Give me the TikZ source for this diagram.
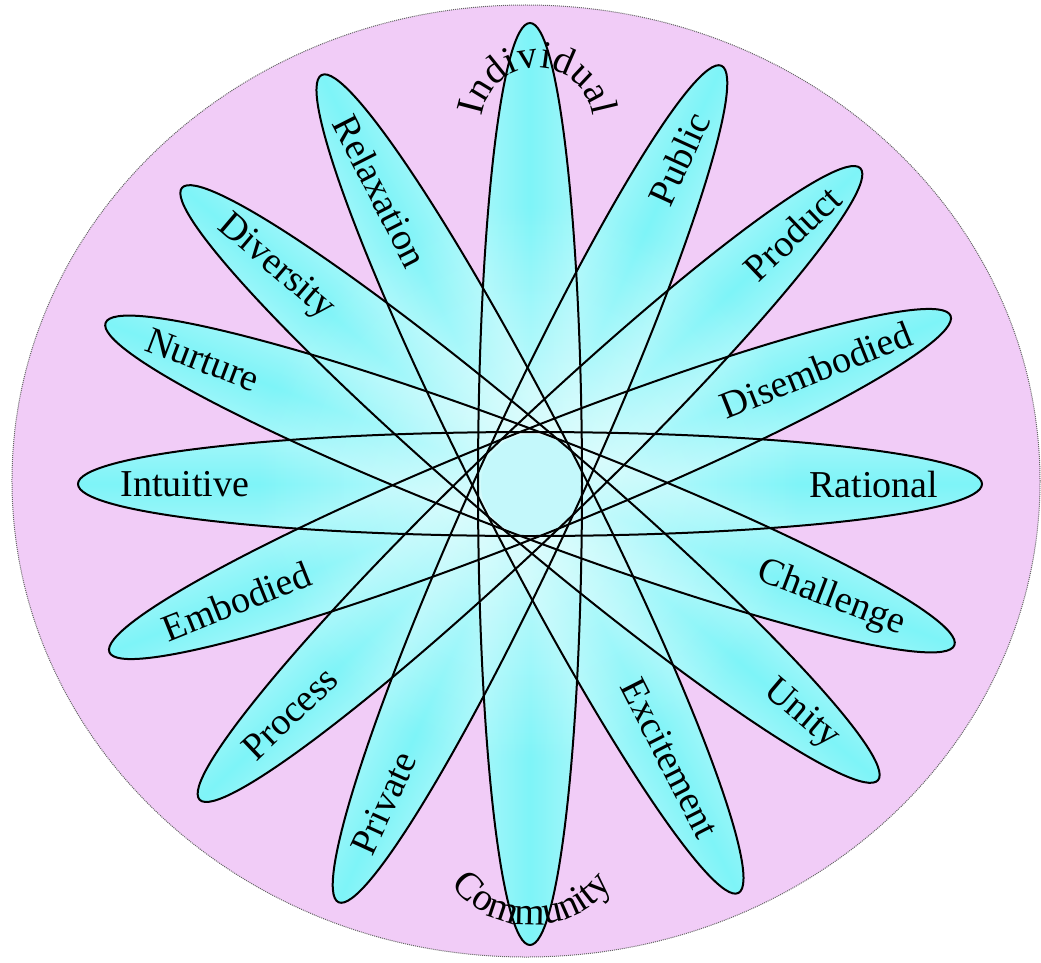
\documentclass[tikz,border=0pt]{standalone}
\usepackage{fontspec}
\setmainfont{Liberation Serif}
\usetikzlibrary{decorations.text,fadings}

\definecolor{discpink}{RGB}{241,204,247}
\definecolor{petalcyan}{RGB}{126,244,248}
\definecolor{petalpale}{RGB}{220,252,253}
\definecolor{hubcyan}{RGB}{196,248,251}
\pgfdeclarehorizontalshading{petalshade}{100bp}{color(0bp)=(petalcyan); color(25bp)=(petalcyan); color(35bp)=(petalcyan); color(50bp)=(petalpale); color(65bp)=(petalcyan); color(75bp)=(petalcyan); color(100bp)=(petalcyan)}
\tikzfading[name=petaledge, top color=transparent!68, bottom color=transparent!68, middle color=transparent!100]
\newcommand{\arcfont}{\fontsize{39}{40}\selectfont}

\begin{document}
\begin{tikzpicture}[x=1pt, y=1pt,
  petal/.style={line width=2pt, black},
  word/.style={font=\fontsize{38}{40}\selectfont, inner sep=0pt},
  rim/.style={gray!80!black, densely dotted, line width=1pt},
]
  \useasboundingbox (-530,-478) rectangle (511,484);
  \fill[discpink] (-4,3) ellipse [x radius=514, y radius=476];
  \draw[rim] (-4,3) ellipse [x radius=514, y radius=476];

  % petals: fill first, outlines on top
  \foreach \ang/\len in {0/452, 21.8/453, 43.7/457, 65.4/460, 90/461, 117/459, 139.6/457, 159.2/454}{
    \begin{scope}[transform canvas={rotate=\ang}]
      \shade[shading=petalshade] (0,0) ellipse [x radius=\len, y radius=52];
      \fill[white, path fading=petaledge] (0,0) ellipse [x radius=\len, y radius=52];
    \end{scope}
  }
  \fill[hubcyan] (2,-1) circle [radius=51];
  \foreach \ang/\len in {0/452, 21.8/453, 43.7/457, 65.4/460, 90/461, 117/459, 139.6/457, 159.2/454}
    \draw[petal, rotate=\ang] (0,0) ellipse [x radius=\len, y radius=52];

  % words at the petal ends
  \node[word] (rational) at (0:344) {Rational};
  \node[word, rotate=21.8] (disembodied) at (21.8:308) {Disembodied};
  \node[word, rotate=43.7] (product) at (43.7:363) {Product};
  \node[word, rotate=65.4] (public) at (65.4:358) {Public};
  \node[word, rotate=-63] (relaxation) at (117:329) {Relaxation};
  \node[word, rotate=-40.4] (diversity) at (139.6:334) {Diversity};
  \node[word, rotate=-20.8] (nurture) at (159.2:350) {Nurture};
  \node[word] (intuitive) at (180:345) {Intuitive};
  \node[word, rotate=21.8] (embodied) at (201.8:316) {Embodied};
  \node[word, rotate=43.7] (process) at (223.7:332) {Process};
  \node[word, rotate=65.4] (private) at (245.4:351) {Private};
  \node[word, rotate=-63] (excitement) at (297:308) {Excitement};
  \node[word, rotate=-40.4] (unity) at (319.6:356) {Unity};
  \node[word, rotate=-20.8] (challenge) at (339.2:322) {Challenge};

  % curved words on the vertical petal
  \coordinate (topc) at (7,360);
  \coordinate (botc) at (2,-340);
  \path[decorate, decoration={text along path, text align=center, text={|\arcfont|Individual}}]
    ([shift={(180:56)}]topc) arc [start angle=180, end angle=0, radius=56];
  \path[decorate, decoration={text along path, text align=center, text={|\arcfont|Community}}]
    ([shift={(195:101)}]botc) arc [start angle=195, end angle=345, radius=101];
\end{tikzpicture}
\end{document}
